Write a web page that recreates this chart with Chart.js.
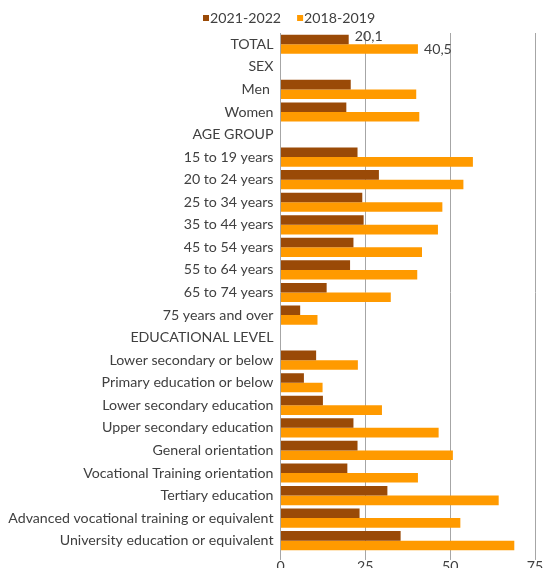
<!DOCTYPE html>
<html>
<head>
<meta charset="utf-8">
<script src="https://cdn.jsdelivr.net/npm/chart.js@4/dist/chart.umd.min.js"></script>
<style>
  html, body { margin: 0; padding: 0; background: #fff; overflow: hidden; }
  #wrap { width: 543px; height: 573px; }
</style>
</head>
<body>
<div id="wrap"><canvas id="chart"></canvas></div>
<script>
const categories = [
  'TOTAL', 'SEX', 'Men ', 'Women', 'AGE GROUP',
  '15 to 19 years', '20 to 24 years', '25 to 34 years', '35 to 44 years',
  '45 to 54 years', '55 to 64 years', '65 to 74 years', '75 years and over',
  'EDUCATIONAL LEVEL', 'Lower secondary or below', 'Primary education or below',
  'Lower secondary education', 'Upper secondary education', 'General orientation',
  'Vocational Training orientation', 'Tertiary education',
  'Advanced vocational training or equivalent', 'University education or equivalent'
];
const values2021 = [
  20.1, null, 20.7, 19.4, null,
  22.7, 29.0, 24.1, 24.5, 21.5, 20.5, 13.6, 5.8,
  null, 10.5, 6.9, 12.5, 21.5, 22.7, 19.7, 31.5, 23.3, 35.4
];
const values2018 = [
  40.5, null, 40.0, 40.9, null,
  56.7, 53.9, 47.7, 46.4, 41.7, 40.3, 32.5, 10.9,
  null, 22.8, 12.4, 29.9, 46.6, 50.8, 40.5, 64.3, 53.0, 68.9
];
const xTicks = [0, 25, 50, 75];
const labelledRows = [0];

const textColor = '#404040';
const fontFamily = 'Lato, "Open Sans", sans-serif';
const fontSize = 14.2;

// value labels only on the TOTAL row, like the original
const totalLabels = {
  id: 'totalLabels',
  afterDatasetsDraw(chart) {
    const ctx = chart.ctx;
    ctx.save();
    ctx.font = fontSize + 'px ' + fontFamily;
    ctx.fillStyle = textColor;
    ctx.textAlign = 'left';
    ctx.textBaseline = 'middle';
    chart.data.datasets.forEach((ds, di) => {
      const meta = chart.getDatasetMeta(di);
      labelledRows.forEach(i => {
        const bar = meta.data[i];
        const v = ds.data[i];
        if (!bar || v == null) return;
        const txt = v.toFixed(1).replace('.', ',');
        const dy = di === 0 ? -3 : 0;
        ctx.fillText(txt, bar.x + 6, bar.y + dy);
      });
    });
    ctx.restore();
  }
};

// small square-marker legend above the plot, tight gap between marker and text
const topLegend = {
  id: 'topLegend',
  afterDraw(chart) {
    const ctx = chart.ctx;
    ctx.save();
    ctx.font = fontSize + 'px ' + fontFamily;
    ctx.textBaseline = 'middle';
    ctx.textAlign = 'left';
    let x = 203;
    const y = 18;
    chart.data.datasets.forEach(ds => {
      ctx.fillStyle = ds.backgroundColor;
      ctx.fillRect(x, y - 3, 6, 6);
      ctx.fillStyle = textColor;
      ctx.fillText(ds.label, x + 7, y);
      x += 7 + ctx.measureText(ds.label).width + 16;
    });
    ctx.restore();
  }
};

new Chart(document.getElementById('chart'), {
  type: 'bar',
  data: {
    labels: categories,
    datasets: [
      { label: '2021-2022', data: values2021, backgroundColor: '#9A4A07' },
      { label: '2018-2019', data: values2018, backgroundColor: '#FF9A00' }
    ]
  },
  options: {
    indexAxis: 'y',
    responsive: true,
    maintainAspectRatio: false,
    animation: false,
    layout: { padding: { left: 0, right: 8, top: 33, bottom: 0 } },
    datasets: { bar: { categoryPercentage: 0.85, barPercentage: 1.0 } },
    plugins: {
      tooltip: { enabled: false },
      legend: { display: false }
    },
    scales: {
      x: {
        min: 0,
        max: 75,
        afterBuildTicks(s) { s.ticks = xTicks.map(v => ({ value: v })); },
        grid: { color: '#A6A6A6', lineWidth: 1, tickLength: 8 },
        border: { display: false },
        ticks: { color: textColor, font: { family: fontFamily, size: fontSize }, padding: -2 }
      },
      y: {
        afterFit(s) { s.width = 280.5; },
        grid: { display: false, drawTicks: false },
        border: { display: false },
        ticks: { color: textColor, font: { family: fontFamily, size: fontSize }, padding: 7, autoSkip: false }
      }
    }
  },
  plugins: [totalLabels, topLegend]
});
</script>
</body>
</html>
